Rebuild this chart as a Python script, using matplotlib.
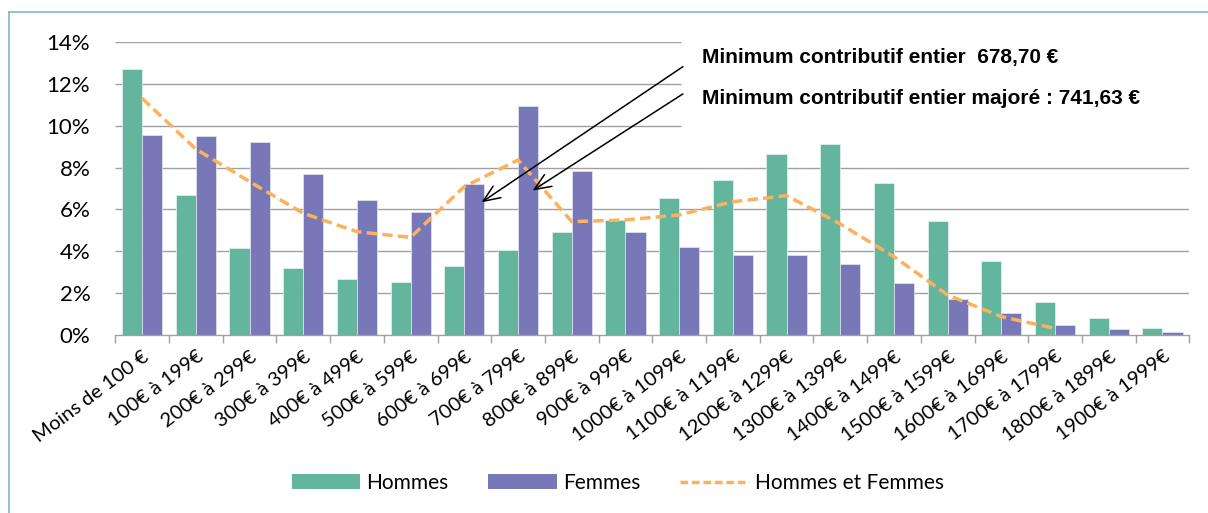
import matplotlib
matplotlib.use("Agg")
import matplotlib.pyplot as plt
import numpy as np
from matplotlib.lines import Line2D
from matplotlib.patches import Patch

categories = ["Moins de 100 €", "100€ à 199€", "200€ à 299€", "300€ à 399€", "400€ à 499€",
              "500€ à 599€", "600€ à 699€", "700€ à 799€", "800€ à 899€", "900€ à 999€",
              "1000€ à 1099€", "1100€ à 1199€", "1200€ à 1299€", "1300€ à 1399€", "1400€ à 1499€",
              "1500€ à 1599€", "1600€ à 1699€", "1700€ à 1799€", "1800€ à 1899€", "1900€ à 1999€"]
hommes = [12.68, 6.69, 4.15, 3.22, 2.68, 2.54, 3.30, 4.07, 4.91, 5.48,
          6.53, 7.41, 8.65, 9.14, 7.28, 5.44, 3.54, 1.60, 0.83, 0.35]
femmes = [9.55, 9.52, 9.23, 7.71, 6.45, 5.89, 7.20, 10.93, 7.83, 4.93,
          4.23, 3.81, 3.81, 3.40, 2.48, 1.75, 1.06, 0.49, 0.29, 0.16]
ensemble = [11.30, 8.88, 7.33, 5.82, 4.94, 4.67, 7.09, 8.36, 5.42, 5.50,
            5.74, 6.37, 6.66, 5.31, 3.75, 1.92, 0.89, 0.33, np.nan, np.nan]
yticks = [0, 2, 4, 6, 8, 10, 12, 14]
note1 = "Minimum contributif entier  678,70 €"
note2 = "Minimum contributif entier majoré : 741,63 €"

GREEN = "#63b59d"
PURPLE = "#7878b9"
ORANGE = "#fbb15e"
LABEL_FONT = ["Lato", "DejaVu Sans"]

W, H = 1208, 513
fig = plt.figure(figsize=(W / 100, H / 100), dpi=100)
ax = fig.add_axes([115.3 / W, 1 - 335.3 / H, (1189.3 - 115.3) / W, (335.3 - 41.7) / H])

x = np.arange(len(categories))
bw = 0.375
ax.bar(x - bw / 2, hommes, width=bw, color=GREEN, edgecolor="#e8f4f0", linewidth=0.5, zorder=2)
ax.bar(x + bw / 2, femmes, width=bw, color=PURPLE, edgecolor="#e6e6f2", linewidth=0.5, zorder=2)
ax.plot(x, ensemble, color=ORANGE, lw=2.5, dashes=(3.0, 1.5), zorder=3)

ax.set_xlim(-0.5, len(categories) - 0.5)
ax.set_ylim(0, 14)

# gridlines (upper ones are hidden behind the annotation text area)
xcut = (681 - 115.3) / 53.7 - 0.5
for v in yticks[1:]:
    xe = xcut if v >= 10 else len(categories) - 0.5
    ax.plot([-0.5, xe], [v, v], color="#a0a0a0", lw=1.0, zorder=1, solid_capstyle="butt")

ax.set_yticks(yticks)
ax.set_yticklabels([f"{v}%" for v in yticks], fontsize=16, family=LABEL_FONT)
ax.tick_params(axis="y", length=0, pad=18)

ax.set_xticks(np.arange(len(categories) + 1) - 0.5)
ax.set_xticklabels([])
ax.tick_params(axis="x", which="major", length=6, color="#a0a0a0", width=1.0)
ax.set_xticks(x, minor=True)
ax.set_xticklabels(categories, minor=True, rotation=37, ha="right", va="top",
                   rotation_mode="anchor", fontsize=14.5, family=LABEL_FONT)
ax.tick_params(axis="x", which="minor", length=0, pad=9)

for s in ["left", "right", "top"]:
    ax.spines[s].set_visible(False)
ax.spines["bottom"].set_color("#a0a0a0")
ax.spines["bottom"].set_linewidth(1.0)

# annotations
fig.text(702 / W, 1 - 57 / H, note1, fontsize=15, fontweight="bold",
         family=["Liberation Sans", "DejaVu Sans"], va="center", ha="left")
fig.text(702 / W, 1 - 99 / H, note2, fontsize=15, fontweight="bold",
         family=["Liberation Sans", "DejaVu Sans"], va="center", ha="left")
arrow_kw = dict(arrowstyle="->,head_length=1.2,head_width=0.5", color="black", lw=1.1,
                shrinkA=0, shrinkB=0)
ax.annotate("", xy=(6.32, 6.34), xytext=(10.07, 12.81), arrowprops=arrow_kw,
            annotation_clip=False, zorder=5)
ax.annotate("", xy=(7.27, 6.90), xytext=(10.07, 11.51), arrowprops=arrow_kw,
            annotation_clip=False, zorder=5)

# legend
handles = [Patch(facecolor=GREEN, edgecolor="none"),
           Patch(facecolor=PURPLE, edgecolor="none"),
           Line2D([], [], color=ORANGE, lw=2.5, dashes=(2.2, 1.1))]
fig.legend(handles, ["Hommes", "Femmes", "Hommes et Femmes"], loc="center",
           bbox_to_anchor=(618 / W, 1 - 483 / H), ncol=3, frameon=False,
           prop={"family": LABEL_FONT, "size": 15}, handlelength=3.3, handleheight=0.7,
           handletextpad=0.3, columnspacing=1.9)

# frame border (top and left only are visible)
border = "#7fb7cc"
fig.add_artist(Line2D([9 / W, 1], [1 - 12 / H, 1 - 12 / H], color=border, lw=1.2,
                      transform=fig.transFigure))
fig.add_artist(Line2D([9 / W, 9 / W], [0, 1 - 12 / H], color=border, lw=1.2,
                      transform=fig.transFigure))

fig.savefig("out.png", dpi=100)
